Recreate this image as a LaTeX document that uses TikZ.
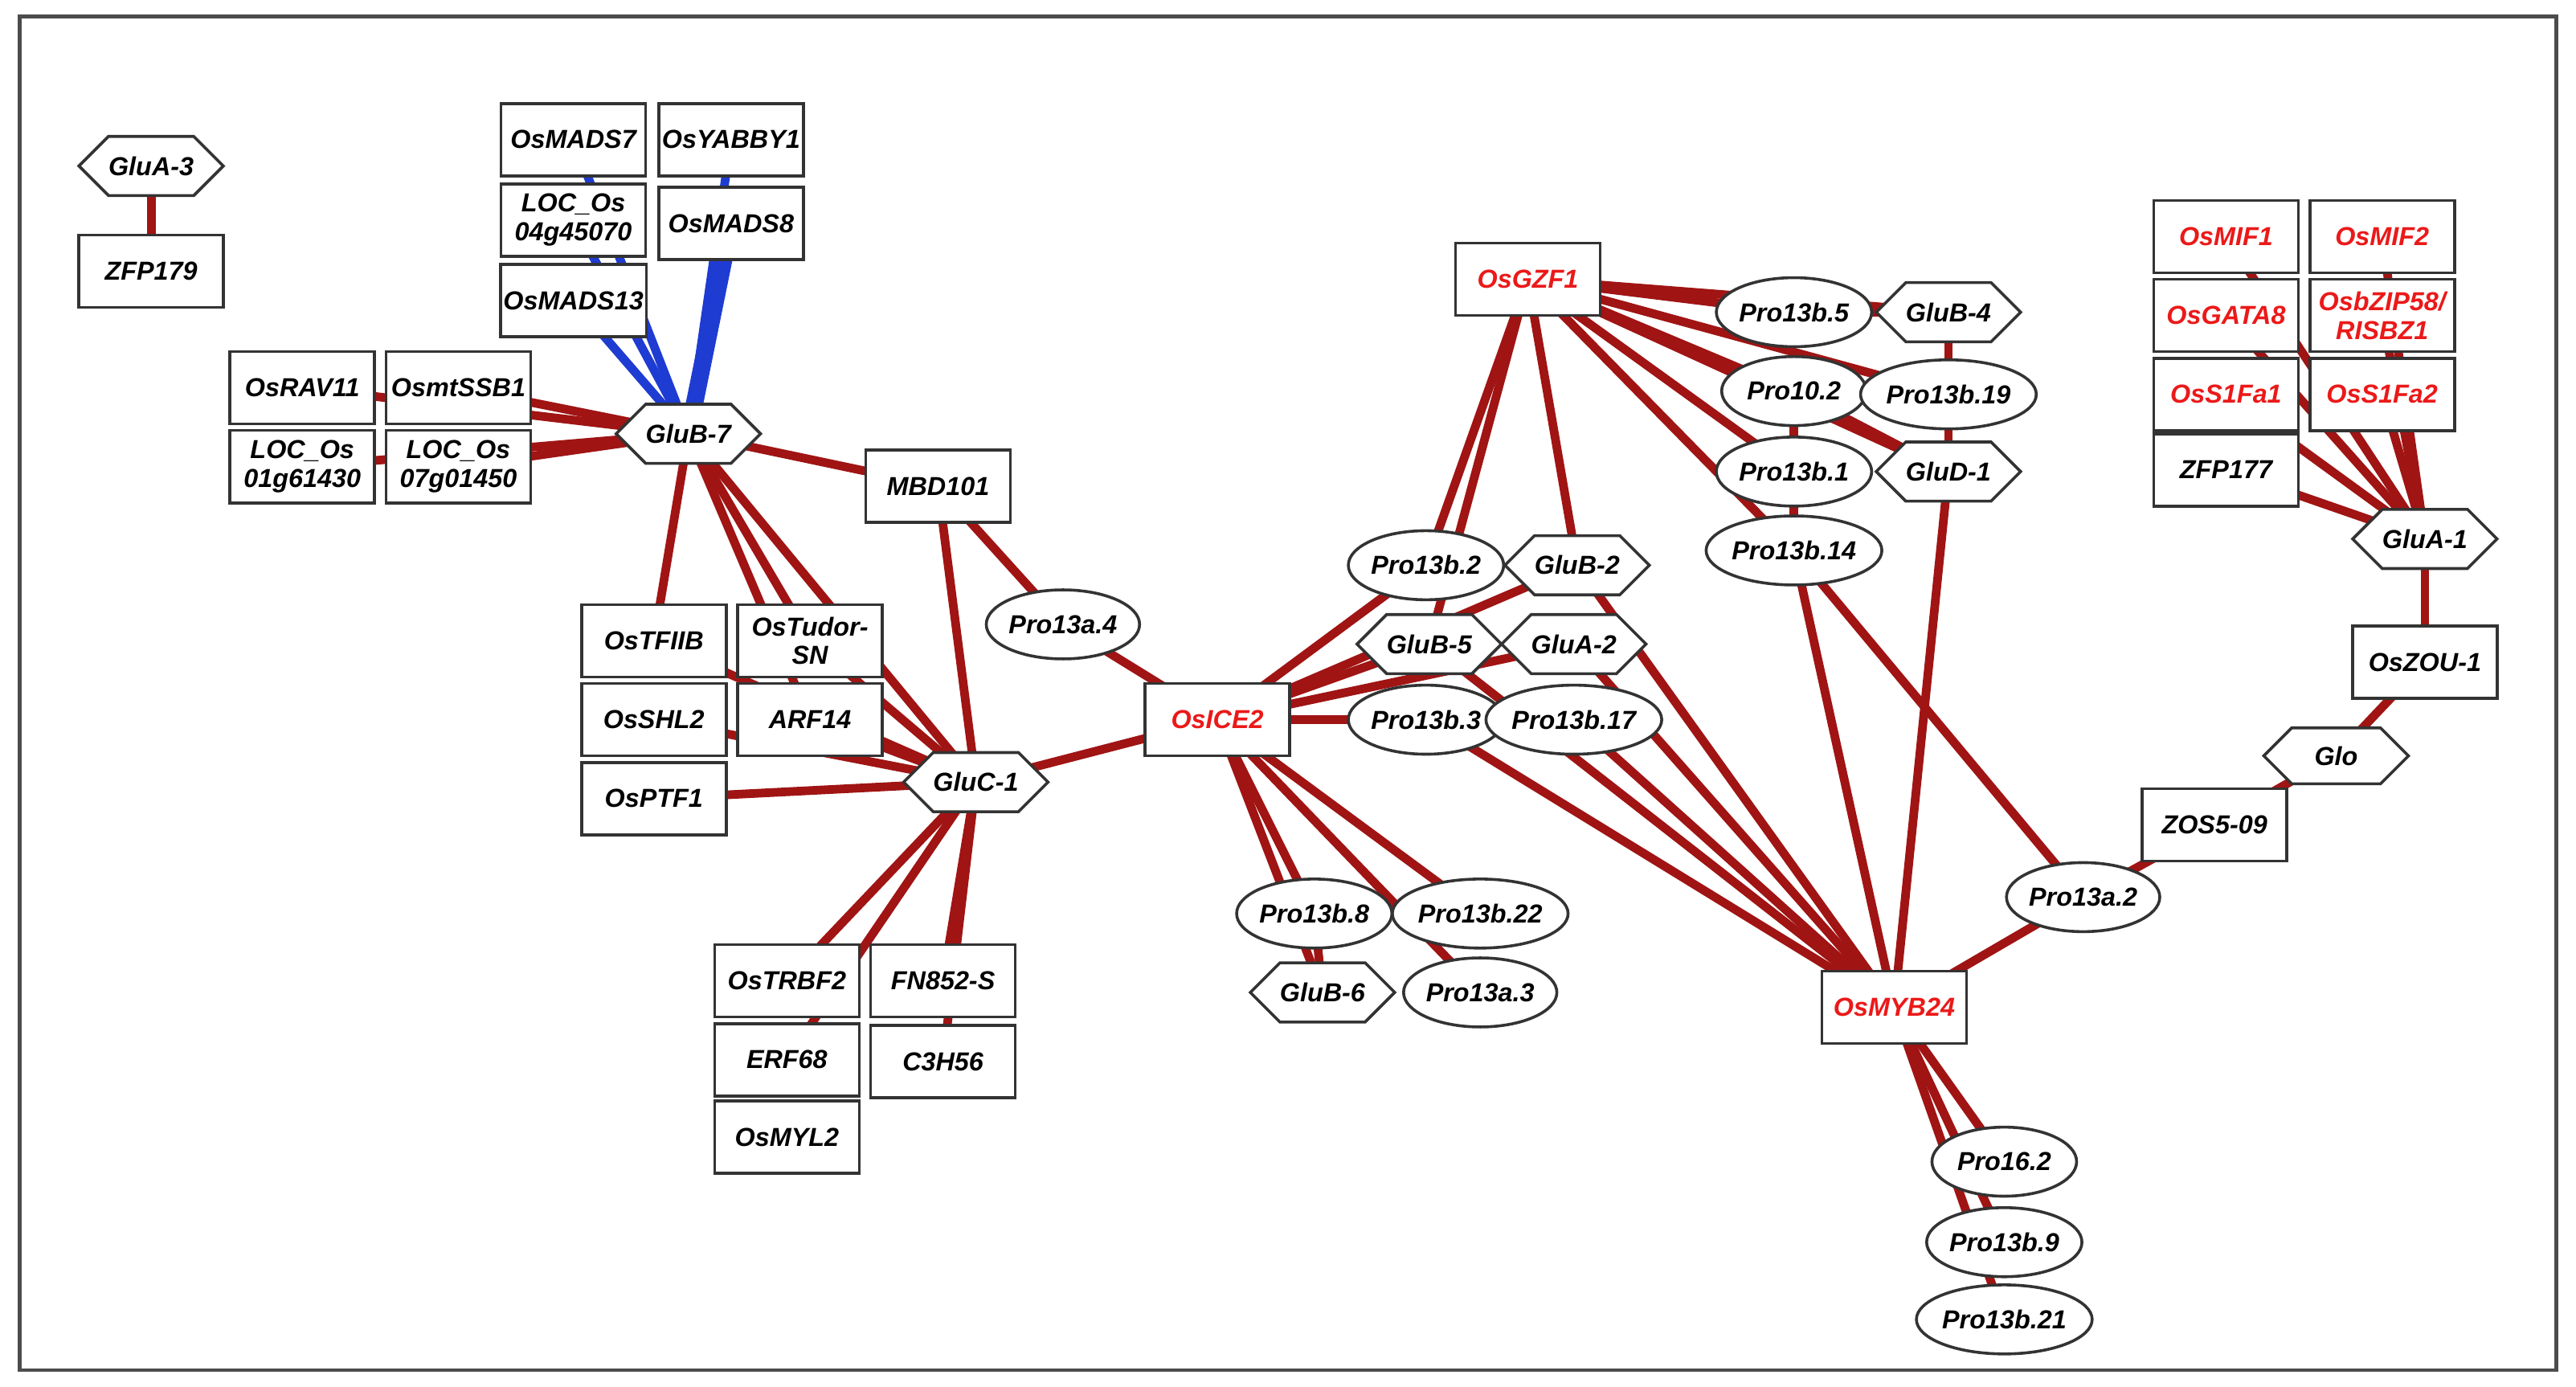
\documentclass[tikz,border=0pt]{standalone}
\usepackage{fontspec}
\setmainfont{Liberation Sans}
\usetikzlibrary{shapes.geometric,shapes.symbols,backgrounds}
\definecolor{er}{RGB}{160,20,20}
\definecolor{eb}{RGB}{30,60,210}
\definecolor{tr}{RGB}{235,25,25}
\tikzset{
 base/.style={draw=black!80,fill=white,line width=0.5pt,font=\fontsize{4.5}{5}\selectfont\bfseries\itshape,inner sep=0.5pt,align=center},
 box/.style={base,rectangle,minimum width=0.88cm,minimum height=0.44cm},
 ell/.style={base,ellipse,minimum width=0.88cm,minimum height=0.42cm,inner sep=0pt},
 hex/.style={base,signal,signal to=east and west,minimum width=0.86cm,minimum height=0.36cm,inner sep=0pt},
 red/.style={text=tr},
 e/.style={draw=er,line width=1.5pt},
 eB/.style={draw=eb,line width=1.5pt},
}
\begin{document}
\begin{tikzpicture}[x=0.01cm,y=-0.01cm]
\useasboundingbox (0,0) rectangle (1568,844);
\draw[black!70,line width=0.6pt] (12,10) rectangle (1556,834);
\node[hex] (GA3) at (92,101) {GluA-3};
\node[box] (ZFP179) at (92,165) {ZFP179};
\node[box] (M7) at (349,85) {OsMADS7};
\node[box] (YAB) at (445,85) {OsYABBY1};
\node[box] (L04) at (349,134) {LOC\_Os\\04g45070};
\node[box] (M8) at (445,136) {OsMADS8};
\node[box] (M13) at (349,183) {OsMADS13};
\node[box] (RAV) at (184,236) {OsRAV11};
\node[box] (SSB) at (279,236) {OsmtSSB1};
\node[box] (L01) at (184,284) {LOC\_Os\\01g61430};
\node[box] (L07) at (279,284) {LOC\_Os\\07g01450};
\node[hex] (GB7) at (419,264) {GluB-7};
\node[box] (MBD) at (571,296) {MBD101};
\node[ell] (P13a4) at (647,380) {Pro13a.4};
\node[box] (TFIIB) at (398,390) {OsTFIIB};
\node[box] (TUD) at (493,390) {OsTudor-\\SN};
\node[box] (SHL) at (398,438) {OsSHL2};
\node[box] (ARF) at (493,438) {ARF14};
\node[box] (PTF) at (398,486) {OsPTF1};
\node[hex] (GC1) at (594,476) {GluC-1};
\node[box,red] (ICE) at (741,438) {OsICE2};
\node[box] (TRBF) at (479,597) {OsTRBF2};
\node[box] (FN) at (574,597) {FN852-S};
\node[box] (ERF) at (479,645) {ERF68};
\node[box] (C3H) at (574,646) {C3H56};
\node[box] (MYL) at (479,692) {OsMYL2};
\node[ell] (P8) at (800,556) {Pro13b.8};
\node[ell] (P22) at (901,556) {Pro13b.22};
\node[hex] (GB6) at (805,604) {GluB-6};
\node[ell] (P13a3) at (901,604) {Pro13a.3};
\node[box,red] (GZF) at (930,170) {OsGZF1};
\node[ell] (P5) at (1092,190) {Pro13b.5};
\node[hex] (GB4) at (1186,190) {GluB-4};
\node[ell] (P102) at (1092,238) {Pro10.2};
\node[ell] (P19) at (1186,240) {Pro13b.19};
\node[ell] (P1) at (1092,287) {Pro13b.1};
\node[hex] (GD1) at (1186,287) {GluD-1};
\node[ell] (P14) at (1092,335) {Pro13b.14};
\node[ell] (P2) at (868,344) {Pro13b.2};
\node[hex] (GB2) at (960,344) {GluB-2};
\node[hex] (GB5) at (870,392) {GluB-5};
\node[hex] (GA2) at (958,392) {GluA-2};
\node[ell] (P3) at (868,438) {Pro13b.3};
\node[ell] (P17) at (958,438) {Pro13b.17};
\node[box,red] (MYB) at (1153,613) {OsMYB24};
\node[ell] (P162) at (1220,707) {Pro16.2};
\node[ell] (P9) at (1220,756) {Pro13b.9};
\node[ell] (P21) at (1220,803) {Pro13b.21};
\node[ell] (P13a2) at (1268,546) {Pro13a.2};
\node[box] (ZOS) at (1348,502) {ZOS5-09};
\node[hex,minimum width=0.88cm,minimum height=0.34cm] (Glo) at (1422,460) {Glo};
\node[box] (ZOU) at (1476,403) {OsZOU-1};
\node[hex] (GA1) at (1476,328) {GluA-1};
\node[box] (ZFP177) at (1355,286) {ZFP177};
\node[box,red] (S1) at (1355,240) {OsS1Fa1};
\node[box,red] (S2) at (1450,240) {OsS1Fa2};
\node[box,red] (GATA) at (1355,192) {OsGATA8};
\node[box,red] (BZ) at (1450,192) {OsbZIP58/\\RISBZ1};
\node[box,red] (MIF1) at (1355,144) {OsMIF1};
\node[box,red] (MIF2) at (1450,144) {OsMIF2};
\begin{pgfonlayer}{background}
\foreach \a/\b in {GA3/ZFP179,GB7/RAV,GB7/SSB,GB7/L01,GB7/L07,GB7/MBD,GB7/TFIIB,GB7/TUD,GB7/ARF,GB7/GC1,
 MBD/GC1,MBD/P13a4,P13a4/ICE,GC1/TFIIB,GC1/TUD,GC1/SHL,GC1/ARF,GC1/PTF,GC1/ICE,GC1/TRBF,GC1/FN,GC1/ERF,GC1/C3H,
 ICE/P2,ICE/GB5,ICE/GB2,ICE/GA2,ICE/P3,ICE/P17,ICE/P8,ICE/P22,ICE/GB6,ICE/P13a3,P8/GB6,
 GZF/P2,GZF/GB2,GZF/GB5,GZF/P5,GZF/GB4,GZF/P102,GZF/P19,GZF/P1,GZF/GD1,GZF/P14,
 MYB/P3,MYB/P17,MYB/GA2,MYB/GB2,MYB/GB5,MYB/P14,MYB/GD1,MYB/P13a2,MYB/P162,MYB/P9,MYB/P21,
 P14/P13a2,P13a2/ZOS,ZOS/Glo,Glo/ZOU,ZOU/GA1,GA1/ZFP177,GA1/S1,GA1/S2,GA1/GATA,GA1/BZ,GA1/MIF1,GA1/MIF2,
 P5/GB4,P102/P1,P102/GD1,P1/P14,GB4/P19,P19/GD1}
 {\draw[e] (\a.center) -- (\b.center);}
\foreach \a/\b in {M7/GB7,YAB/GB7,L04/GB7,M13/GB7}
 {\draw[eB] (\a.center) -- (\b.center);}
\draw[eB,line width=3pt] (M8.center) -- (GB7.center);
\end{pgfonlayer}
\end{tikzpicture}
\end{document}
